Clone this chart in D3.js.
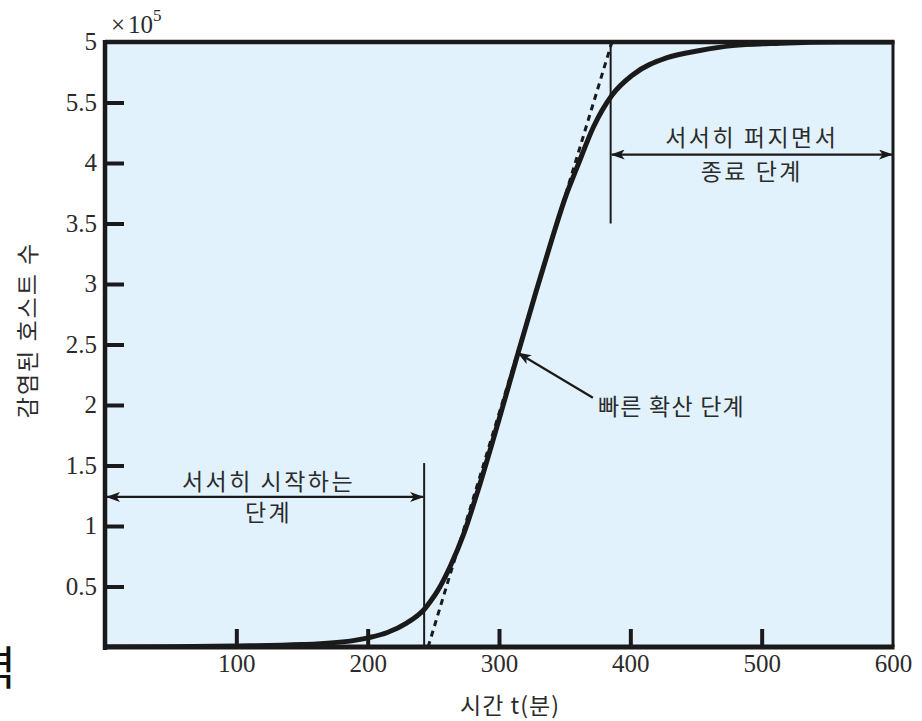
<!DOCTYPE html>
<html><head><meta charset="utf-8">
<script src="https://cdn.jsdelivr.net/npm/d3@7/dist/d3.min.js"></script>
<style>
html,body{margin:0;padding:0;background:#fff;}
svg{display:block;}
</style></head>
<body>
<svg id="chart" width="922" height="721"></svg>
<script>
// ---- data ----
const timeMin = [0, 50, 100, 150, 190, 202, 215, 230, 238, 243, 248, 253, 263, 273, 283, 300, 314, 328, 340, 350, 360, 372, 386, 402, 428, 453, 478, 514, 560, 600];
const infectedHosts = [0, 0.003, 0.008, 0.02, 0.055, 0.08, 0.12, 0.2, 0.26, 0.31, 0.38, 0.46, 0.67, 0.93, 1.26, 1.88, 2.41, 2.93, 3.36, 3.7, 3.98, 4.3, 4.56, 4.73, 4.87, 4.93, 4.97, 4.99, 5.0, 5.0];
const tangentTime = [246, 386];
const tangentHosts = [0, 5];
const xTickValues = [100, 200, 300, 400, 500, 600];
const xTickLabels = ["100", "200", "300", "400", "500", "600"];
const yTickValues = [0.5, 1, 1.5, 2, 2.5, 3, 3.5, 4, 4.5, 5];
const yTickLabels = ["0.5", "1", "1.5", "2", "2.5", "3", "3.5", "4", "5.5", "5"];
const phaseBounds = [243, 385];

const svg = d3.select("#chart");
const L = 105, R = 893, T = 42, B = 647;
const x = d3.scaleLinear().domain([0, 600]).range([L, R]);
const y = d3.scaleLinear().domain([0, 5]).range([B, T]);
const textColor = "#2b2b2b";
const kfont = "'Noto Sans CJK KR', 'Noto Sans', sans-serif";
const sfont = "'Liberation Serif', 'DejaVu Serif', serif";

// defs
const defs = svg.append("defs");
defs.append("marker").attr("id", "ah").attr("viewBox", "0 0 14 10")
  .attr("refX", 13).attr("refY", 5).attr("markerWidth", 14).attr("markerHeight", 10)
  .attr("markerUnits", "userSpaceOnUse").attr("orient", "auto-start-reverse")
  .append("path").attr("d", "M0,0 L14,5 L0,10 L3.5,5 Z").attr("fill", "#1a1a1a");
defs.append("clipPath").attr("id", "plotclip").append("rect")
  .attr("x", L).attr("y", T).attr("width", R - L).attr("height", B - T);

// background
svg.append("rect").attr("x", L).attr("y", T).attr("width", R - L).attr("height", B - T)
  .attr("fill", "#e1f2fc");

// axes (ticks inside)
const xAxis = d3.axisBottom(x).tickValues(xTickValues)
  .tickFormat((d, i) => xTickLabels[i]).tickSizeInner(-18).tickSizeOuter(0).tickPadding(24);
const gx = svg.append("g").attr("transform", `translate(0,${B})`).call(xAxis);
gx.select(".domain").remove();
gx.selectAll(".tick line").attr("stroke", "#1a1a1a").attr("stroke-width", 4)
  .filter(d => d === 600).remove();
gx.selectAll(".tick text").attr("font-family", sfont).attr("font-size", 25)
  .attr("fill", textColor).attr("dy", "0.05em");

const yAxis = d3.axisLeft(y).tickValues(yTickValues)
  .tickFormat((d, i) => yTickLabels[i]).tickSizeInner(-19).tickSizeOuter(0).tickPadding(8);
const gy = svg.append("g").attr("transform", `translate(${L},0)`).call(yAxis);
gy.select(".domain").remove();
gy.selectAll(".tick line").attr("stroke", "#1a1a1a").attr("stroke-width", 4)
  .filter(d => d === 5).remove();
gy.selectAll(".tick text").attr("font-family", sfont).attr("font-size", 25)
  .attr("fill", textColor).attr("dy", "0.3em");

// plot elements
const plot = svg.append("g").attr("clip-path", "url(#plotclip)");
const line = d3.line().x(d => x(d[0])).y(d => y(d[1])).curve(d3.curveMonotoneX);

// tangent (dotted)
plot.append("path").datum(tangentTime.map((t, i) => [t, tangentHosts[i]]))
  .attr("d", d3.line().x(d => x(d[0])).y(d => y(d[1])))
  .attr("fill", "none").attr("stroke", "#1a1a1a").attr("stroke-width", 3)
  .attr("stroke-dasharray", "6,5");

// main curve
plot.append("path").datum(timeMin.map((t, i) => [t, infectedHosts[i]]))
  .attr("d", line).attr("fill", "none").attr("stroke", "#1a1a1a")
  .attr("stroke-width", 5).attr("stroke-linejoin", "round");

// phase boundary lines
svg.append("line").attr("x1", x(phaseBounds[0])).attr("x2", x(phaseBounds[0]))
  .attr("y1", y(0)).attr("y2", y(1.52)).attr("stroke", "#1a1a1a").attr("stroke-width", 2);
svg.append("line").attr("x1", x(phaseBounds[1])).attr("x2", x(phaseBounds[1]))
  .attr("y1", y(5)).attr("y2", y(3.5)).attr("stroke", "#1a1a1a").attr("stroke-width", 2);

// double arrows
svg.append("line").attr("x1", x(0) + 2).attr("x2", x(phaseBounds[0]) - 1)
  .attr("y1", y(1.24)).attr("y2", y(1.24)).attr("stroke", "#1a1a1a").attr("stroke-width", 2.2)
  .attr("marker-start", "url(#ah)").attr("marker-end", "url(#ah)");
svg.append("line").attr("x1", x(phaseBounds[1]) + 1).attr("x2", x(600) - 1)
  .attr("y1", y(4.07)).attr("y2", y(4.07)).attr("stroke", "#1a1a1a").attr("stroke-width", 2.2)
  .attr("marker-start", "url(#ah)").attr("marker-end", "url(#ah)");

// fast phase arrow
svg.append("line").attr("x1", x(371.5)).attr("y1", y(2.06)).attr("x2", x(314.5)).attr("y2", y(2.43))
  .attr("stroke", "#1a1a1a").attr("stroke-width", 2.2).attr("marker-end", "url(#ah)");

// frame
svg.append("path").attr("d", `M${L},${T} H${R} V${B}`).attr("fill", "none")
  .attr("stroke", "#1a1a1a").attr("stroke-width", 3);
svg.append("line").attr("x1", L).attr("x2", R + 1.5).attr("y1", T).attr("y2", T)
  .attr("stroke", "#1a1a1a").attr("stroke-width", 4.5);
svg.append("line").attr("x1", L).attr("x2", L).attr("y1", T - 2).attr("y2", B + 3)
  .attr("stroke", "#1a1a1a").attr("stroke-width", 4.5);
svg.append("line").attr("x1", L - 2).attr("x2", R + 1.5).attr("y1", B).attr("y2", B)
  .attr("stroke", "#1a1a1a").attr("stroke-width", 5);

// annotation texts
function ktext(tx, ty, str, anchor, size, ls) {
  return svg.append("text").attr("x", tx).attr("y", ty).attr("text-anchor", anchor || "middle")
    .attr("font-family", kfont).attr("font-size", size || 23).attr("letter-spacing", ls == null ? 2.5 : ls)
    .attr("fill", textColor).text(str);
}
ktext((x(0) + x(phaseBounds[0])) / 2 + 4, 490, "서서히 시작하는");
ktext((x(0) + x(phaseBounds[0])) / 2 + 4, 521, "단계");
ktext((x(phaseBounds[1]) + x(600)) / 2, 146, "서서히 퍼지면서");
ktext((x(phaseBounds[1]) + x(600)) / 2, 180, "종료 단계");
ktext(598, 415, "빠른 확산 단계", "start", 23, 1.2);

// axis titles
ktext((L + R) / 2 + 11, 714, "시간 t(분)", "middle", 23, 1);
svg.append("text").attr("transform", "translate(36,330) rotate(-90)")
  .attr("text-anchor", "middle").attr("font-family", kfont).attr("font-size", 23)
  .attr("letter-spacing", 2).attr("fill", textColor).text("감염된 호스트 수");

// multiplier
const mt = svg.append("text").attr("x", 111).attr("y", 33).attr("font-family", sfont)
  .attr("font-size", 25).attr("fill", textColor);
mt.append("tspan").text("×");
mt.append("tspan").attr("dx", 3).text("10");
mt.append("tspan").attr("dy", -12).attr("font-size", 17).text("5");

// partially visible glyph at the left edge (cropped in the reference too)
svg.append("text").attr("x", 16).attr("y", 684).attr("text-anchor", "end")
  .attr("font-family", kfont).attr("font-size", 46).attr("fill", "#111").text("력");
</script>
</body></html>
